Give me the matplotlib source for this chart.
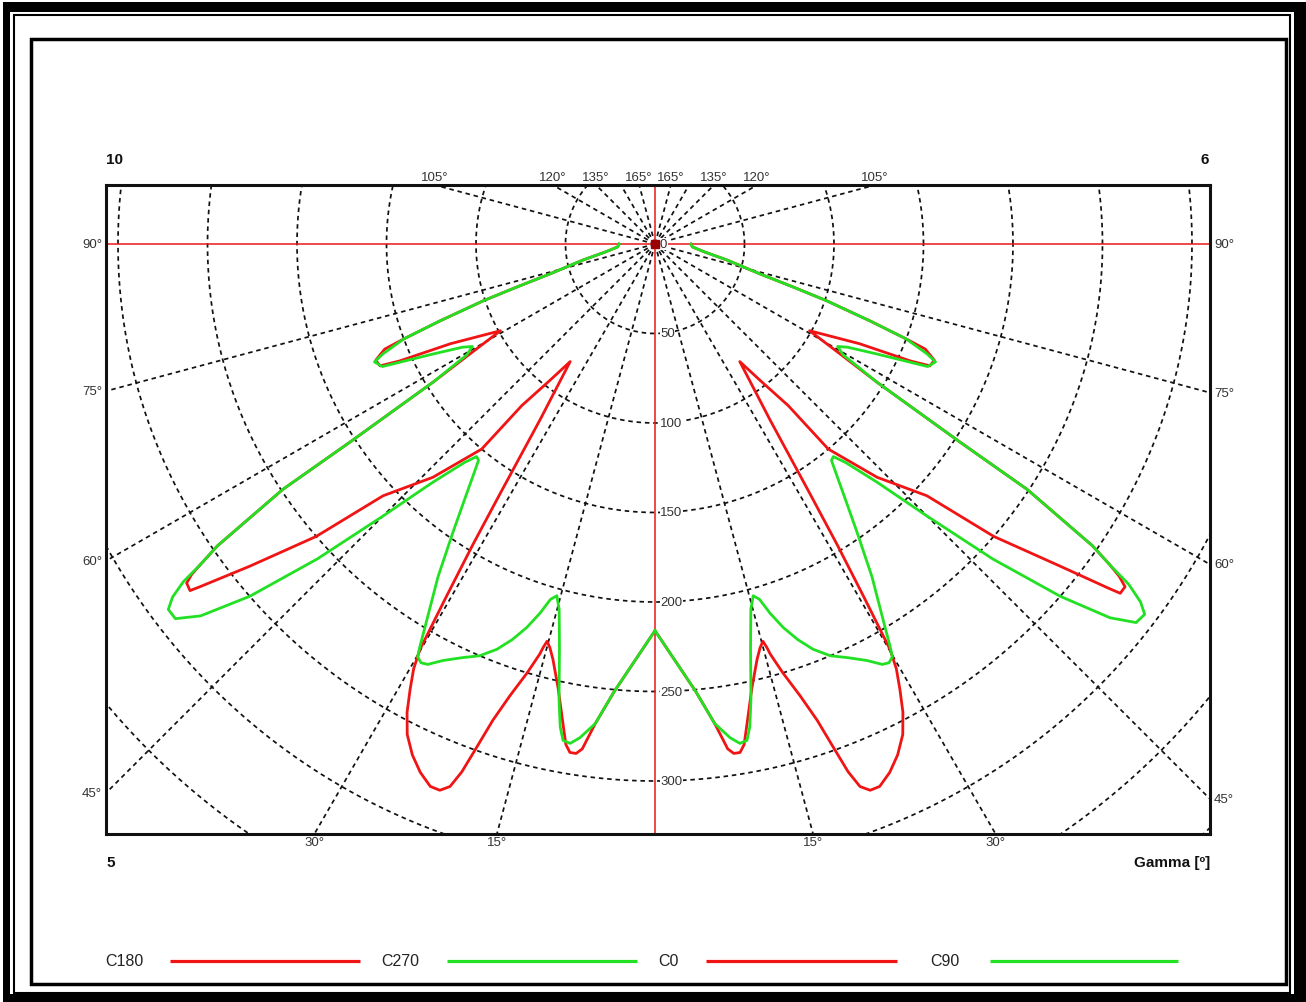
import numpy as np
import matplotlib
matplotlib.use("Agg")
import matplotlib.pyplot as plt
from matplotlib.patches import Rectangle

plt.rcParams['font.family'] = ['Liberation Sans', 'DejaVu Sans']

# --- datos: gamma [grados] e intensidad [cd] por plano C ---
gamma_c180 = [0, 5.2, 7.1, 8.2, 8.8, 9.5, 10.1, 10.85, 12.3, 13.8, 14.6, 15.2, 15.5, 15.7, 16.6, 17.8, 18.8,
              19.5, 20.1, 20.7, 21.5, 22.5, 23.95, 25.4, 26.8, 27.9, 28.8, 29.6, 30.1, 30.6, 31.2, 31.8, 33.2,
              35.8, 37.6, 39.5, 40.2, 43.6, 47.2, 49.2, 51.5, 53.0, 53.3, 54.1, 54.5, 54.8, 55.4, 56.6, 57.0,
              58.1, 59.3, 60.7, 64.0, 65.4, 66.1, 67.4, 68.75, 69.3, 70.3, 71.7, 72.7, 74.1, 77.5, 80.9, 85.5, 90]
int_c180 = [216, 251, 270, 285, 288, 288, 284, 273, 254, 239, 233, 230, 234, 238, 250, 265, 281,
            298, 314, 324, 328, 328, 323, 316, 307, 296, 284, 273, 262, 230, 197, 165, 117,
            81, 96, 117, 150, 180, 207, 250, 289, 318, 324, 323, 318, 311, 297, 249, 203,
            146, 120, 99, 127, 157, 168, 169, 162, 150, 128, 101, 81, 61, 41, 28, 21, 20]

gamma_c270 = [0, 5.2, 7.1, 8.65, 9.65, 10.5, 11.1, 11.9, 13.3, 14.7, 15.6, 16.4, 17.3, 18.5, 19.85, 21.3,
              23.06, 25.0, 26.95, 28.4, 29.2, 29.9, 30.25, 31.3, 33.1, 35.0, 36.7, 38.2, 39.2, 40.0, 41.1,
              43.0, 45.0, 47.0, 49.0, 50.7, 52.0, 53.1, 53.8, 54.4, 54.8, 55.4, 56.6, 57.0, 58.1, 59.5, 60.7,
              61.8, 63.6, 65.8, 67.2, 68.0, 69.3, 70.3, 71.7, 72.7, 74.1, 77.5, 80.9, 85.5, 90]
int_c270 = [216, 251, 270, 279, 283, 282, 275, 260, 232, 211, 204, 207, 216, 226, 235, 243,
            250, 255, 261, 267, 268, 266, 261, 245, 222, 197, 178, 164, 156, 155, 162,
            182, 215, 258, 300, 328, 340, 340, 334, 324, 311, 297, 249, 203, 146, 122, 117,
            122, 138, 167, 170, 164, 150, 128, 101, 81, 61, 41, 28, 21, 20]

gamma_c0 = [0, 5.2, 7.1, 8.2, 8.8, 9.5, 10.1, 10.85, 12.3, 13.8, 14.6, 15.2, 15.5, 15.7, 16.6, 17.8, 18.8,
            19.5, 20.1, 20.7, 21.5, 22.5, 23.95, 25.4, 26.8, 27.9, 28.8, 29.6, 30.1, 30.6, 31.2, 31.8, 33.2,
            35.8, 37.6, 39.5, 40.2, 43.6, 47.2, 49.2, 51.5, 52.8, 53.1, 53.9, 54.4, 54.8, 55.4, 56.6, 57.0,
            58.1, 59.3, 60.7, 64.0, 65.4, 66.1, 67.4, 68.75, 69.3, 70.3, 71.7, 72.7, 74.1, 77.5, 80.9, 85.5, 90]
int_c0 = [216, 251, 270, 285, 288, 288, 284, 273, 254, 239, 233, 230, 234, 238, 250, 265, 281,
          298, 314, 324, 328, 328, 323, 316, 307, 296, 284, 273, 262, 230, 197, 165, 117,
          81, 96, 117, 150, 180, 207, 250, 289, 318, 325, 325, 319, 311, 297, 249, 203,
          146, 120, 99, 127, 157, 168, 169, 162, 150, 128, 101, 81, 61, 41, 28, 21, 20]

gamma_c90 = [0, 5.2, 7.1, 8.65, 9.65, 10.5, 11.1, 11.9, 13.3, 14.7, 15.6, 16.4, 17.3, 18.5, 19.85, 21.3,
             23.06, 25.0, 26.95, 28.4, 29.2, 29.9, 30.25, 31.3, 33.1, 35.0, 36.7, 38.2, 39.2, 40.0, 41.1,
             43.0, 45.0, 47.0, 49.0, 50.6, 51.8, 52.9, 53.6, 54.3, 54.8, 55.4, 56.6, 57.0, 58.1, 59.5, 60.7,
             61.8, 63.6, 65.8, 67.2, 68.0, 69.3, 70.3, 71.7, 72.7, 74.1, 77.5, 80.9, 85.5, 90]
int_c90 = [216, 251, 270, 279, 283, 282, 275, 260, 232, 211, 204, 207, 216, 226, 235, 243,
           250, 255, 261, 267, 268, 266, 261, 245, 222, 197, 178, 164, 156, 155, 162,
           182, 215, 258, 300, 329, 342, 343, 337, 326, 311, 297, 249, 203, 146, 122, 117,
           122, 138, 167, 170, 164, 150, 128, 101, 81, 61, 41, 28, 21, 20]

ROJO, VERDE = "#f01414", "#22e022"
series = [("C180", gamma_c180, int_c180, -1, ROJO),
          ("C270", gamma_c270, int_c270, -1, VERDE),
          ("C0", gamma_c0, int_c0, 1, ROJO),
          ("C90", gamma_c90, int_c90, 1, VERDE)]

radios = [0, 50, 100, 150, 200, 250, 300]
ang_arriba = [105, 120, 135, 165]
ang_lado = [45, 60, 75, 90]
ang_abajo = [15, 30]

# --- geometria en pixeles de la figura ---
W, H = 1306, 1003
k = 1.79            # px por cd
cx, cy = 655, 245   # centro polar
x0, y0, x1, y1 = 106, 186, 1210, 835

fig = plt.figure(figsize=(W / 100, H / 100), dpi=100)

# capa de fondo (marcos, textos de esquina, leyenda) en pixeles
bg = fig.add_axes([0, 0, 1, 1])
bg.set_xlim(0, W)
bg.set_ylim(H, 0)
bg.axis('off')
for (rx, ry, rw, rh) in [(3, 3, 1303, 10), (3, 3, 7, 1000), (1294, 3, 12, 1000), (3, 995, 1303, 8)]:
    bg.add_patch(Rectangle((rx, ry), rw, rh, color='black', lw=0))
bg.add_patch(Rectangle((14, 16), 1276, 978, fill=False, ec='black', lw=1.5))
bg.add_patch(Rectangle((31, 40), 1255, 945, fill=False, ec='black', lw=2.5))

bg.text(106, 160, "10", fontsize=11, fontweight='bold', ha='left', va='center', color='#111')
bg.text(1209, 160, "6", fontsize=11, fontweight='bold', ha='right', va='center', color='#111')
bg.text(106, 863, "5", fontsize=11, fontweight='bold', ha='left', va='center', color='#111')
bg.text(1210, 863, "Gamma [º]", fontsize=11, fontweight='bold', ha='right', va='center', color='#111')

# leyenda manual
leg_x = [(105, 170, 360), (381, 447, 637), (658, 706, 897), (930, 990, 1178)]
for (nombre, g, i, s, col), (tx, la, lb) in zip(series, leg_x):
    bg.text(tx, 962, nombre, fontsize=11.5, ha='left', va='center', color='#222')
    bg.plot([la, lb], [962, 962], color=col, lw=2.3, solid_capstyle='butt')

# eje polar
ax = fig.add_axes([x0 / W, 1 - y1 / H, (x1 - x0) / W, (y1 - y0) / H])
xmin, xmax = (x0 - cx) / k, (x1 - cx) / k
ymin, ymax = -(y1 - cy) / k, (cy - y0) / k
ax.set_xlim(xmin, xmax)
ax.set_ylim(ymin, ymax)
ax.set_xticks([])
ax.set_yticks([])
for sp in ax.spines.values():
    sp.set_linewidth(2.2)
    sp.set_color('#111')

dash = (0, (2.6, 2.2))
th = np.linspace(0, 2 * np.pi, 720)
for r in range(50, 500, 50):
    ax.plot(r * np.cos(th), r * np.sin(th), ls=dash, color='#111', lw=1.25, zorder=1)
for a in range(15, 180, 15):
    if a == 90:
        continue
    ar = np.radians(a)
    for s in (-1, 1):
        ax.plot([0, s * 700 * np.sin(ar)], [0, -700 * np.cos(ar)], ls=dash, color='#111', lw=1.25, zorder=1)

ax.axhline(0, color='#e81818', lw=1.1, zorder=2)
ax.axvline(0, color='#e81818', lw=1.1, zorder=2)
ax.plot(0, 0, 's', ms=5.5, color='#9a0000', zorder=6)

for r in radios:
    ax.text(5 / k, -r, str(r), fontsize=9.5, ha='left', va='center', color='#333', zorder=3,
            bbox=dict(fc='white', ec='none', pad=0.3))

# curvas: rojo primero, verde encima
for orden in (ROJO, VERDE):
    for nombre, g, i, s, col in series:
        if col != orden:
            continue
        gr = np.radians(np.array(g))
        iv = np.array(i, dtype=float)
        ax.plot(s * iv * np.sin(gr), -iv * np.cos(gr), color=col, lw=2.0, zorder=4,
                solid_joinstyle='round')

# etiquetas de angulo en los bordes
lab = dict(fontsize=9.5, color='#333', clip_on=False)
for a in ang_arriba:
    ar = np.radians(a)
    t = ymax / -np.cos(ar)
    for s in (-1, 1):
        ax.text(s * t * np.sin(ar), ymax + 1.5 / k, f"{a}°", ha='center', va='bottom', **lab)
for a in ang_lado:
    ar = np.radians(a)
    tl = -xmin / np.sin(ar)
    tr = xmax / np.sin(ar)
    ax.text(xmin - 4 / k, -tl * np.cos(ar), f"{a}°", ha='right', va='center', **lab)
    ax.text(xmax + 4 / k, -tr * np.cos(ar), f"{a}°", ha='left', va='center', **lab)
for a in ang_abajo:
    ar = np.radians(a)
    t = -ymin / np.cos(ar)
    for s in (-1, 1):
        ax.text(s * t * np.sin(ar), ymin - 2 / k, f"{a}°", ha='center', va='top', **lab)

fig.savefig("out.png", dpi=100)
